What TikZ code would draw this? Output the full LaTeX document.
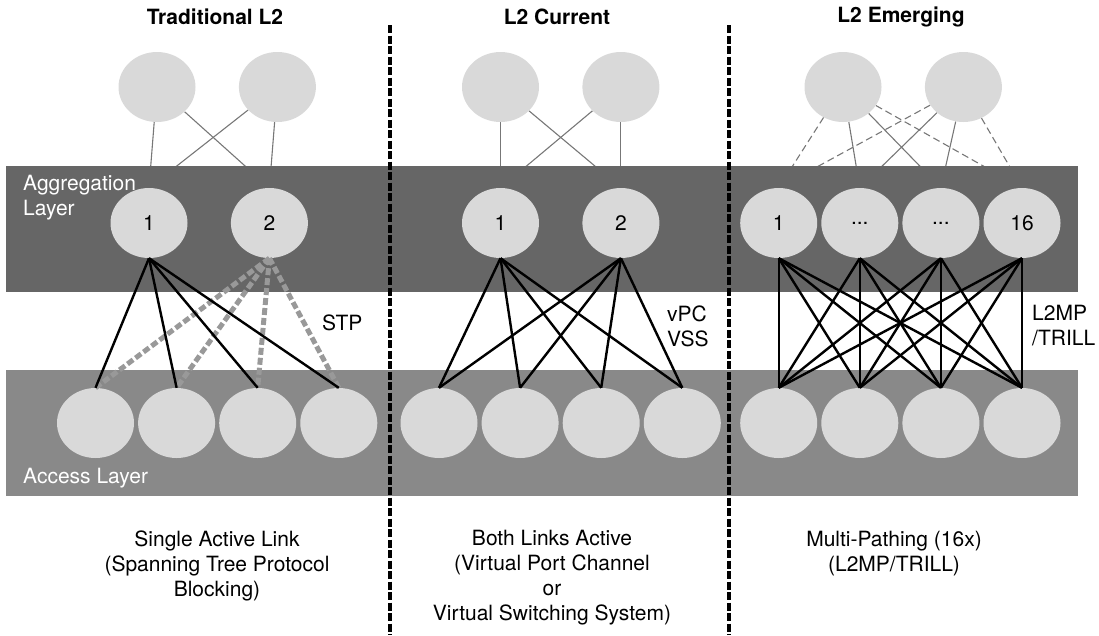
\documentclass[tikz,border=0pt]{standalone}
\usepackage{fontspec}
\setmainfont{TeX Gyre Heros}
\usetikzlibrary{positioning,shapes.geometric}
\definecolor{swgray}{HTML}{D9D9D9}
\definecolor{agggray}{HTML}{666666}
\definecolor{accgray}{HTML}{898989}
\definecolor{linkgray}{HTML}{777777}
\definecolor{stpgray}{HTML}{999999}
\pgfdeclarelayer{under}
\pgfsetlayers{under,main}
\tikzset{
  sw/.style={ellipse,fill=swgray,minimum width=77pt,minimum height=70pt,
    inner sep=0pt},
  uplink/.style={linkgray,line width=1.1pt},
  uplinkd/.style={uplink,dash pattern=on 7pt off 4pt},
  dnlink/.style={black,line width=2.4pt},
  stplink/.style={stpgray,line width=5pt,dash pattern=on 7pt off 3pt},
  divline/.style={black,line width=4.5pt,dash pattern=on 8pt off 2.5pt},
  ttl/.style={font=\fontsize{21}{25}\selectfont\bfseries},
  lyrlbl/.style={white,align=left,anchor=west,inner sep=0pt},
  sidelbl/.style={align=left,anchor=west,inner sep=0pt},
  caption/.style={align=center,inner sep=0pt},
}

\begin{document}
\begin{tikzpicture}[x=1pt,y=-1pt,font=\fontsize{21}{25}\selectfont]
  \useasboundingbox (0,0) rectangle (1099,635);
  % layer bands
  \fill[agggray] (6,166) rectangle (1078,292);
  \fill[accgray] (6,370) rectangle (1078,496);
  \node[lyrlbl] (agglbl) at (23,198) {Aggregation\\Layer};
  \node[lyrlbl] (acclbl) at (23,478) {Access Layer};

  % titles
  \node[ttl] (ttl1) at (215,17) {Traditional L2};
  \node[ttl] (ttl2) at (557,17) {L2 Current};
  \node[ttl] (ttl3) at (901,17) {L2 Emerging};

  % traditional L2
  \node[sw] (t11) at (157,87) {};
  \node[sw,right=43pt of t11] (t12) {};
  \node[sw] (g11) at (149,223) {1};
  \node[sw,right=43pt of g11] (g12) {2};
  \node[sw] (a11) at (95.5,423) {};
  \node[sw,right=3.7pt of a11] (a12) {};
  \node[sw,right=3.7pt of a12] (a13) {};
  \node[sw,right=3.7pt of a13] (a14) {};

  % L2 current
  \node[sw] (t21) at (500.5,87) {};
  \node[sw,right=43pt of t21] (t22) {};
  \node[sw] (g21) at (500.5,223) {1};
  \node[sw,right=43pt of g21] (g22) {2};
  \node[sw] (a21) at (439,423) {};
  \node[sw,right=3.7pt of a21] (a22) {};
  \node[sw,right=3.7pt of a22] (a23) {};
  \node[sw,right=3.7pt of a23] (a24) {};

  % L2 emerging
  \node[sw] (t31) at (843,87) {};
  \node[sw,right=43pt of t31] (t32) {};
  \node[sw] (g31) at (778.7,223) {1};
  \node[sw,right=3.7pt of g31] (g32) {...};
  \node[sw,right=3.7pt of g32] (g33) {...};
  \node[sw,right=3.7pt of g33] (g34) {16};
  \node[sw] (a31) at (778.7,423) {};
  \node[sw,right=3.7pt of a31] (a32) {};
  \node[sw,right=3.7pt of a32] (a33) {};
  \node[sw,right=3.7pt of a33] (a34) {};

  % core links, hidden behind the aggregation band
  \begin{pgfonlayer}{under}
    \foreach \s in {1,2} {
      \foreach \t in {1,2} {
        \foreach \g in {1,2}
          \draw[uplink] (t\s\t) -- (g\s\g.north);
      }
    }
    \foreach \t in {1,2} {
      \draw[uplinkd] (t3\t) -- (g31.north);
      \draw[uplink] (t3\t) -- (g32.north);
      \draw[uplink] (t3\t) -- (g33.north);
      \draw[uplinkd] (t3\t) -- (g34.north);
    }
  \end{pgfonlayer}

  % aggregation to access
  \foreach \a in {1,...,4}
    \draw[stplink] (g12.south) -- (a1\a.north);
  \foreach \a in {1,...,4}
    \draw[dnlink] (g11.south) -- (a1\a.north);
  \foreach \g in {1,2} {
    \foreach \a in {1,...,4}
      \draw[dnlink] (g2\g.south) -- (a2\a.north);
  }
  \foreach \g in {1,...,4} {
    \foreach \a in {1,...,4}
      \draw[dnlink] (g3\g.south) -- (a3\a.north);
  }

  \node[sidelbl] (stp) at (322,323) {STP};
  \node[sidelbl] (vpc) at (667,326) {vPC\\VSS};
  \node[sidelbl] (trill) at (1032,326) {L2MP\\/TRILL};

  % captions
  \node[caption] (cap1) at (217,566)
    {Single Active Link\\(Spanning Tree Protocol\\Blocking)};
  \node[caption] (cap2) at (552,578)
    {Both Links Active\\(Virtual Port Channel\\or\\Virtual Switching System)};
  \node[caption] (cap3) at (894,554) {Multi-Pathing (16x)\\(L2MP/TRILL)};

  % dividers
  \draw[divline] (390,25) -- (390,635);
  \draw[divline] (729,25) -- (729,635);
\end{tikzpicture}
\end{document}
